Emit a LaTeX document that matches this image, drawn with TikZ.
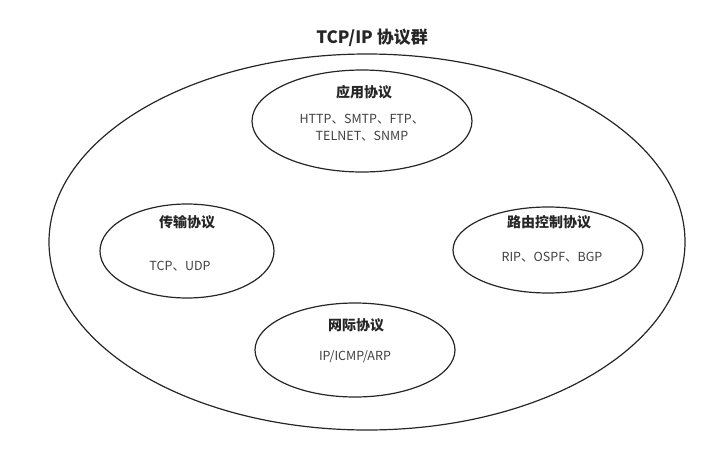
\documentclass[tikz,border=0pt]{standalone}
\usepackage{fontspec}
\setmainfont{Noto Sans CJK SC}
\usetikzlibrary{shapes.geometric}
\begin{document}
\begin{tikzpicture}[x=1pt,y=-1pt,
                    group/.style = {ellipse,draw=black!85,line width=1.2pt,inner sep=0pt},
                    heading/.style = {font=\bfseries\fontsize{14}{16}\selectfont,text=black!85},
                    items/.style = {font=\fontsize{12.5}{17}\selectfont,text=black!75,align=center}]
                    \useasboundingbox (0,0) rectangle (709,471);

                    \node[heading,font=\bfseries\fontsize{17}{19}\selectfont] (suite) at (372,38) {TCP/IP 协议群};
                    \node[group,minimum width=636pt,minimum height=376pt] (outer) at (367,242) {};

                    \node[group,minimum width=220pt,minimum height=102pt] (app) at (362,121) {};
                    \node[heading] (appname) at (364,92) {应用协议};
                    \node[items] (applist) at (362,128) {HTTP、SMTP、FTP、\\TELNET、SNMP};

                    \node[group,minimum width=174pt,minimum height=94pt] (trans) at (187,251) {};
                    \node[heading] (transname) at (187,222) {传输协议};
                    \node[items] (translist) at (180,266) {TCP、UDP};

                    \node[group,minimum width=190pt,minimum height=86pt] (route) at (548,250) {};
                    \node[heading] (routename) at (549,222) {路由控制协议};
                    \node[items] (routelist) at (552,257) {RIP、OSPF、BGP};

                    \node[group,minimum width=200pt,minimum height=94pt] (net) at (355,350) {};
                    \node[heading] (netname) at (356,325) {网际协议};
                    \node[items] (netlist) at (355,357) {IP/ICMP/ARP};
                \end{tikzpicture}
\end{document}
